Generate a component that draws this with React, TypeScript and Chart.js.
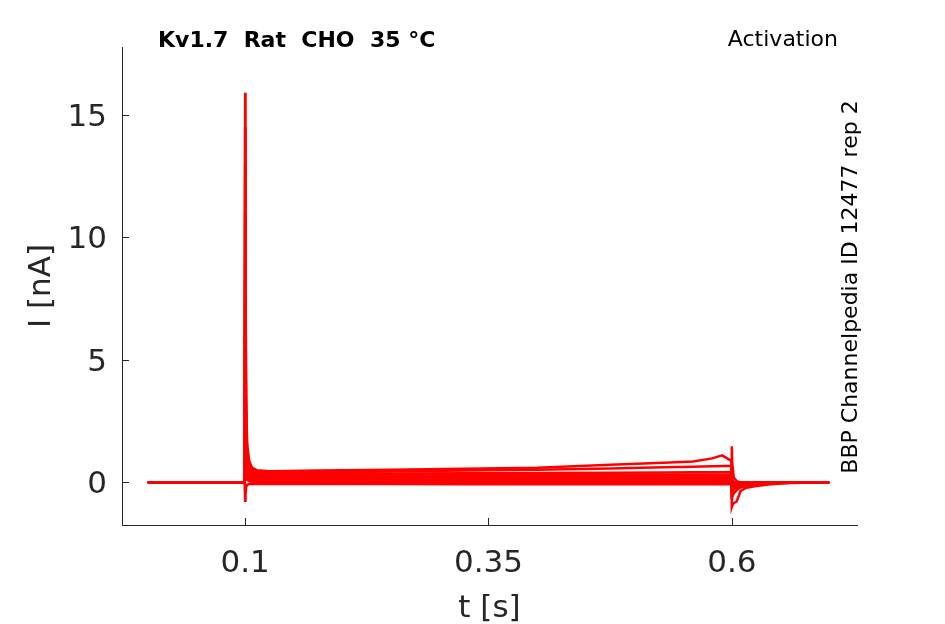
import { useEffect, useRef } from "react";
import { Chart, registerables } from "chart.js";

Chart.register(...registerables);

const INK = "#262626";
const TRACE = "#ff0000";

// sample times [s], shared by every sweep
const times = [
  0, 0.05, 0.0995, 0.1, 0.1004, 0.101, 0.102, 0.104, 0.107, 0.112, 0.125,
  0.175, 0.25, 0.325, 0.4, 0.475, 0.53, 0.56, 0.58, 0.59, 0.5995,
  0.6, 0.6004, 0.602, 0.605, 0.609, 0.615, 0.625, 0.64, 0.66, 0.7,
];

// current [nA] per sweep
const sweepA = [0, 0, 0, 15.9, 9.0, 3.4, 1.6, 0.9, 0.6, 0.5, 0.45, 0.48, 0.52, 0.56, 0.6, 0.72, 0.8, 0.85, 0.98, 1.1, 0.88, -1.0, -0.95, -0.85, -0.78, -0.35, -0.22, -0.15, -0.08, -0.03, 0];
const sweepB = [0, 0, 0, 14.5, 8.0, 3.0, 1.4, 0.8, 0.55, 0.43, 0.38, 0.41, 0.44, 0.48, 0.51, 0.57, 0.62, 0.64, 0.66, 0.67, 0.67, -0.7, -0.6, -0.45, -0.32, -0.2, -0.15, -0.1, -0.05, -0.02, 0];
const sweepC = [0, 0, 0, 13.0, 7.0, 2.6, 1.2, 0.7, 0.48, 0.38, 0.34, 0.35, 0.36, 0.37, 0.38, 0.39, 0.4, 0.41, 0.41, 0.41, 0.41, -0.55, -0.4, -0.3, -0.22, -0.15, -0.1, -0.07, -0.04, -0.01, 0];
const sweepD = [0, 0, 0, 11.0, 6.0, 2.2, 1.0, 0.6, 0.42, 0.33, 0.29, 0.29, 0.3, 0.3, 0.31, 0.31, 0.32, 0.32, 0.32, 0.32, 0.32, -0.4, -0.3, -0.22, -0.15, -0.1, -0.07, -0.05, -0.02, 0, 0];
const sweepE = [0, 0, 0, 9.0, 5.0, 1.8, 0.85, 0.5, 0.35, 0.28, 0.25, 0.25, 0.26, 0.26, 0.26, 0.26, 0.27, 0.27, 0.27, 0.27, 0.27, -0.3, -0.22, -0.15, -0.1, -0.07, -0.05, -0.03, -0.01, 0, 0];
const sweepF = [0, 0, 0, 7.5, 4.0, 1.5, 0.7, 0.42, 0.3, 0.23, 0.2, 0.2, 0.2, 0.21, 0.21, 0.21, 0.21, 0.21, 0.21, 0.21, 0.21, -0.22, -0.15, -0.1, -0.07, -0.05, -0.03, -0.02, 0, 0, 0];
const sweepG = [0, 0, 0, 6.0, 3.2, 1.2, 0.55, 0.35, 0.24, 0.18, 0.15, 0.15, 0.15, 0.16, 0.16, 0.16, 0.16, 0.16, 0.16, 0.16, 0.16, -0.15, -0.1, -0.07, -0.05, -0.03, -0.02, -0.01, 0, 0, 0];
const sweepH = [0, 0, 0, 4.5, 2.4, 0.9, 0.45, 0.28, 0.18, 0.13, 0.1, 0.1, 0.11, 0.11, 0.11, 0.11, 0.11, 0.11, 0.11, 0.11, 0.11, -0.1, -0.07, -0.05, -0.03, -0.02, -0.01, 0, 0, 0, 0];
const sweepI = [0, 0, 0, 3.0, 1.6, 0.6, 0.33, 0.2, 0.12, 0.08, 0.06, 0.06, 0.06, 0.07, 0.07, 0.07, 0.07, 0.07, 0.07, 0.07, 0.07, -0.06, -0.04, -0.03, -0.02, -0.01, 0, 0, 0, 0, 0];
const sweepJ = [0, 0, 0, 2.0, 1.0, 0.4, 0.22, 0.12, 0.07, 0.04, 0.02, 0.02, 0.02, 0.03, 0.03, 0.03, 0.03, 0.03, 0.03, 0.03, 0.03, -0.03, -0.02, -0.01, 0, 0, 0, 0, 0, 0, 0];
const sweepK = [0, 0, 0, 1.0, 0.5, 0.2, 0.1, 0.05, 0.01, -0.02, -0.03, -0.03, -0.03, -0.03, -0.03, -0.03, -0.03, -0.03, -0.03, -0.03, -0.03, 0.2, 0.1, 0.03, 0, 0, 0, 0, 0, 0, 0];
const sweepL = [0, 0, 0, -0.75, -0.5, -0.2, -0.1, -0.07, -0.07, -0.07, -0.07, -0.07, -0.07, -0.08, -0.08, -0.08, -0.08, -0.08, -0.08, -0.08, -0.08, 1.47, 0.8, 0.2, 0.05, 0, 0, 0, 0, 0, 0];

const sweeps = [sweepA, sweepB, sweepC, sweepD, sweepE, sweepF, sweepG, sweepH, sweepI, sweepJ, sweepK, sweepL];

const xTicks = [0.1, 0.35, 0.6];
const yTicks = [0, 5, 10, 15];

const chartTitle = "Kv1.7  Rat  CHO  35 °C";
const protocolLabel = "Activation";
const sourceLabel = "BBP Channelpedia ID 12477 rep 2";
const xLabel = "t [s]";
const yLabel = "I [nA]";

const FONT = "'DejaVu Sans', sans-serif";

// MATLAB-style inward tick marks plus the surrounding text
const decorations = {
  id: "decorations",
  afterDraw(chart: any) {
    const { ctx, chartArea, scales } = chart;
    ctx.save();
    ctx.strokeStyle = INK;
    ctx.lineWidth = 1;
    ctx.beginPath();
    for (const v of xTicks) {
      const px = Math.round(scales.x.getPixelForValue(v)) + 0.5;
      ctx.moveTo(px, chartArea.bottom);
      ctx.lineTo(px, chartArea.bottom - 7);
    }
    for (const v of yTicks) {
      const py = Math.round(scales.y.getPixelForValue(v)) + 0.5;
      ctx.moveTo(chartArea.left, py);
      ctx.lineTo(chartArea.left + 7, py);
    }
    ctx.stroke();

    ctx.fillStyle = "#000";
    ctx.font = `bold 22px ${FONT}`;
    ctx.textAlign = "left";
    ctx.textBaseline = "alphabetic";
    ctx.fillText(chartTitle, 158, 47);

    ctx.font = `22px ${FONT}`;
    ctx.textAlign = "right";
    ctx.fillText(protocolLabel, 838, 46);

    ctx.save();
    ctx.translate(857, 287);
    ctx.rotate(-Math.PI / 2);
    ctx.textAlign = "center";
    ctx.fillText(sourceLabel, 0, 0);
    ctx.restore();

    ctx.fillStyle = INK;
    ctx.font = `31px ${FONT}`;
    ctx.textAlign = "center";
    ctx.fillText(xLabel, (chartArea.left + chartArea.right) / 2, 617);

    ctx.save();
    ctx.translate(50, (chartArea.top + chartArea.bottom) / 2);
    ctx.rotate(-Math.PI / 2);
    ctx.fillText(yLabel, 0, 0);
    ctx.restore();

    ctx.restore();
  },
};

export default function App() {
  const canvasRef = useRef<HTMLCanvasElement>(null);

  useEffect(() => {
    document.body.style.margin = "0";
    if (!canvasRef.current) return;

    const chart = new Chart(canvasRef.current, {
      type: "line",
      data: {
        datasets: sweeps.map((sweep, i) => ({
          label: `sweep ${i + 1}`,
          data: times.map((t, j) => ({ x: t, y: sweep[j] })),
          borderColor: TRACE,
          borderWidth: 2.5,
          pointRadius: 0,
          tension: 0,
          fill: false,
        })),
      },
      options: {
        responsive: false,
        animation: false,
        events: [],
        layout: { padding: { top: 47, right: 88, left: 0, bottom: 0 } },
        plugins: {
          legend: { display: false },
          tooltip: { enabled: false },
        },
        scales: {
          x: {
            type: "linear",
            min: -0.0265,
            max: 0.7286,
            afterBuildTicks: (scale: any) => {
              scale.ticks = xTicks.map((v) => ({ value: v }));
            },
            afterFit: (scale: any) => {
              scale.height = 99;
            },
            ticks: {
              color: INK,
              font: { family: FONT, size: 31 },
              padding: 20,
              maxRotation: 0,
              callback: (v: any) => String(v),
            },
            grid: { display: false, drawTicks: false },
            border: { display: true, color: INK, width: 1 },
          },
          y: {
            type: "linear",
            min: -1.74,
            max: 17.77,
            afterBuildTicks: (scale: any) => {
              scale.ticks = yTicks.map((v) => ({ value: v }));
            },
            afterFit: (scale: any) => {
              scale.width = 122;
            },
            ticks: {
              color: INK,
              font: { family: FONT, size: 31 },
              padding: 15,
              labelOffset: 3,
              callback: (v: any) => String(v),
            },
            grid: { display: false, drawTicks: false },
            border: { display: true, color: INK, width: 1 },
          },
        },
      },
      plugins: [decorations],
    });

    return () => chart.destroy();
  }, []);

  return (
    <div style={{ width: 945, height: 624, background: "#fff" }}>
      <canvas ref={canvasRef} width={945} height={624} />
    </div>
  );
}
